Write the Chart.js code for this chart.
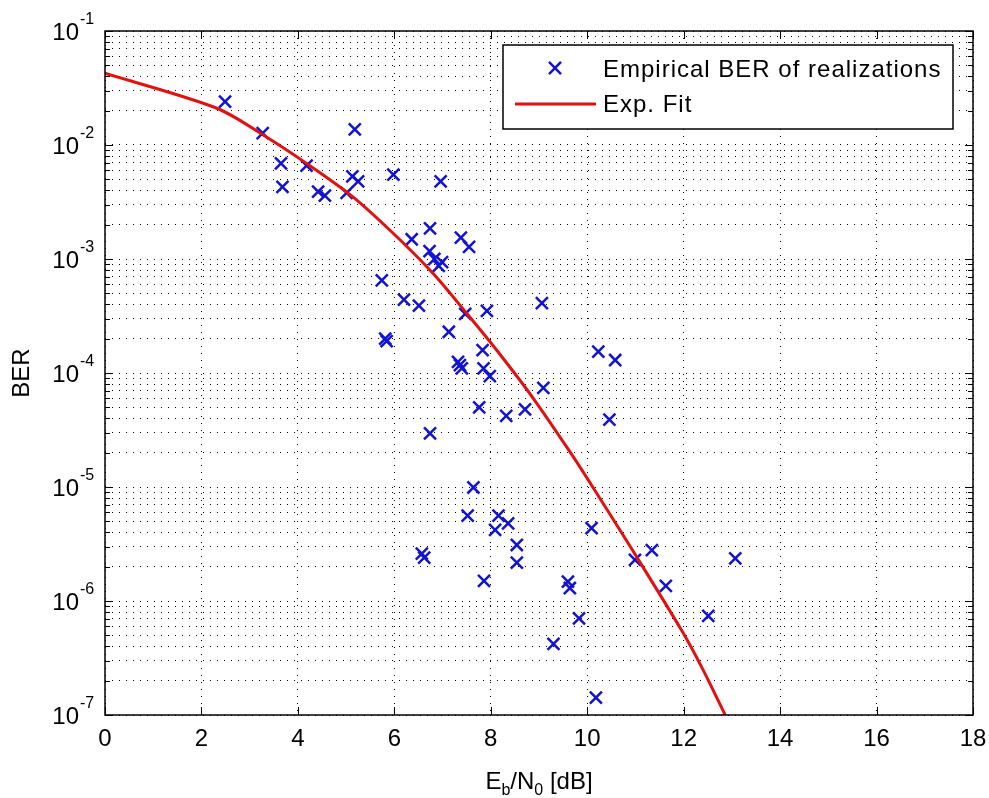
<!DOCTYPE html>
<html lang="en">
<head>
  <meta charset="UTF-8">
  <title>BER vs Eb/N0</title>
  <script src="https://cdn.jsdelivr.net/npm/chart.js"></script>
  <style>
    html, body { margin: 0; padding: 0; background: #fff; }
    #wrap { width: 989px; height: 798px; }
  </style>
</head>
<body>
  <div id="wrap"><canvas id="berChart" width="989" height="798"></canvas></div>

  <script>
    // Empirical BER of realizations (Eb/N0 in dB)
    const empEbN0 = [2.49, 3.27, 3.65, 3.68, 4.18, 4.42, 4.56, 5.01, 5.13, 5.25,
                     5.18, 5.98, 6.96, 6.36, 6.74, 6.73, 7.38, 7.55, 6.83, 6.92,
                     6.99, 5.74, 6.20, 6.51, 7.13, 7.47, 7.92, 9.06, 5.81, 5.84,
                     7.32, 7.40, 7.36, 7.83, 7.85, 7.98, 9.09, 10.23, 10.58, 7.76,
                     8.32, 8.71, 6.74, 10.46, 7.64, 7.52, 8.16, 8.36, 8.09, 8.54,
                     8.54, 6.57, 6.62, 7.86, 9.60, 9.64, 10.09, 9.83, 9.30, 10.18,
                     10.99, 11.34, 11.63, 12.51, 13.07];
    const empBER = [2.4e-2, 1.27e-2, 6.9e-3, 4.3e-3, 6.6e-3, 3.9e-3, 3.6e-3, 3.8e-3, 5.3e-3, 4.8e-3,
                    1.37e-2, 5.5e-3, 4.8e-3, 1.49e-3, 1.86e-3, 1.17e-3, 1.54e-3, 1.28e-3, 1.0e-3, 8.7e-4,
                    9.4e-4, 6.5e-4, 4.4e-4, 3.9e-4, 2.3e-4, 3.3e-4, 3.5e-4, 4.1e-4, 2.0e-4, 1.9e-4,
                    1.25e-4, 1.1e-4, 1.17e-4, 1.59e-4, 1.1e-4, 9.4e-5, 7.4e-5, 1.54e-4, 1.30e-4, 5.0e-5,
                    4.2e-5, 4.8e-5, 2.96e-5, 3.9e-5, 9.9e-6, 5.6e-6, 5.6e-6, 4.8e-6, 4.2e-6, 3.1e-6,
                    2.17e-6, 2.6e-6, 2.4e-6, 1.5e-6, 1.48e-6, 1.3e-6, 4.35e-6, 7.05e-7, 4.2e-7, 1.42e-7,
                    2.29e-6, 2.8e-6, 1.36e-6, 7.4e-7, 2.37e-6];

    // Exponential fit curve
    const fitEbN0 = [0, 2.32, 3.28, 4.18, 5.14, 5.97, 6.80, 7.50, 8.12, 8.88, 9.64, 10.13, 10.96, 11.96, 12.40, 12.86];
    const fitBER = [4.26e-2, 2.10e-2, 1.225e-2, 6.9e-3, 3.51e-3, 1.69e-3, 7.5e-4, 3.34e-4, 1.59e-4,
                    6.0e-5, 2.04e-5, 9.75e-6, 2.7e-6, 5.5e-7, 2.5e-7, 1.0e-7];

    // Axis ticks
    const xTicks = [0, 2, 4, 6, 8, 10, 12, 14, 16, 18];
    const xTickLabels = ['0', '2', '4', '6', '8', '10', '12', '14', '16', '18'];
    const yDecades = [-7, -6, -5, -4, -3, -2, -1];
    const yExpLabels = ['-7', '-6', '-5', '-4', '-3', '-2', '-1'];
    const legendLabels = ['Empirical BER of realizations', 'Exp. Fit'];

    const blue = '#1212d4';
    const red = '#e31010';
    const mainFont = "24px 'Liberation Sans', Arial, sans-serif";
    const smallFont = "16px 'Liberation Sans', Arial, sans-serif";

    // log grid: 1..9 x 10^e for each decade, plus the top decade
    const yTickValues = [];
    for (let i = 0; i < yDecades.length - 1; i++) {
      for (let m = 1; m <= 9; m++) {
        yTickValues.push(Number((m * Math.pow(10, yDecades[i])).toPrecision(3)));
      }
    }
    yTickValues.push(Math.pow(10, yDecades[yDecades.length - 1]));

    const empData = empEbN0.map((x, i) => ({ x: x, y: empBER[i] }));
    const fitData = fitEbN0.map((x, i) => ({ x: x, y: fitBER[i] }));

    // MATLAB-like frame: box, inward ticks, tick labels, titles, legend
    const matlabFrame = {
      id: 'matlabFrame',
      afterDraw(chart) {
        const ctx = chart.ctx;
        const a = chart.chartArea;
        const xs = chart.scales.x;
        const ys = chart.scales.y;
        ctx.save();

        ctx.strokeStyle = '#000';
        ctx.lineWidth = 1.5;
        ctx.strokeRect(a.left, a.top, a.right - a.left, a.bottom - a.top);

        ctx.lineWidth = 1;
        ctx.beginPath();
        xTicks.forEach(v => {
          const px = Math.round(xs.getPixelForValue(v)) + 0.5;
          ctx.moveTo(px, a.bottom); ctx.lineTo(px, a.bottom - 8);
          ctx.moveTo(px, a.top); ctx.lineTo(px, a.top + 8);
        });
        yTickValues.forEach(v => {
          const py = Math.round(ys.getPixelForValue(v)) + 0.5;
          const isDecade = Math.abs(Math.log10(v) - Math.round(Math.log10(v))) < 1e-6;
          const len = isDecade ? 8 : 5;
          ctx.moveTo(a.left, py); ctx.lineTo(a.left + len, py);
          ctx.moveTo(a.right, py); ctx.lineTo(a.right - len, py);
        });
        ctx.stroke();

        // tick labels
        ctx.fillStyle = '#000';
        ctx.textBaseline = 'alphabetic';
        ctx.font = mainFont;
        ctx.textAlign = 'center';
        xTicks.forEach((v, i) => {
          ctx.fillText(xTickLabels[i], xs.getPixelForValue(v), 746);
        });
        yDecades.forEach((e, i) => {
          const py = ys.getPixelForValue(Math.pow(10, e));
          ctx.font = mainFont;
          ctx.textAlign = 'right';
          ctx.fillText('10', 79, py + 9);
          ctx.font = smallFont;
          ctx.textAlign = 'left';
          ctx.fillText(yExpLabels[i], 80, py - 7);
        });

        // x title with subscripts
        const parts = [
          { t: 'E', f: mainFont, dy: 0 },
          { t: 'b', f: smallFont, dy: 6 },
          { t: '/N', f: mainFont, dy: 0 },
          { t: '0', f: smallFont, dy: 6 },
          { t: ' [dB]', f: mainFont, dy: 0 }
        ];
        let total = 0;
        parts.forEach(p => { ctx.font = p.f; p.w = ctx.measureText(p.t).width; total += p.w; });
        let cx = (a.left + a.right) / 2 - total / 2;
        ctx.textAlign = 'left';
        parts.forEach(p => {
          ctx.font = p.f;
          ctx.fillText(p.t, cx, 789 + p.dy);
          cx += p.w;
        });

        // y title
        ctx.save();
        ctx.translate(22, (a.top + a.bottom) / 2);
        ctx.rotate(-Math.PI / 2);
        ctx.font = mainFont;
        ctx.textAlign = 'center';
        ctx.textBaseline = 'middle';
        ctx.fillText('BER', 0, 0);
        ctx.restore();

        // legend
        ctx.fillStyle = '#fff';
        ctx.fillRect(503, 45, 450, 84);
        ctx.strokeStyle = '#000';
        ctx.lineWidth = 1.5;
        ctx.strokeRect(503, 45, 450, 84);

        const empSet = chart.data.datasets[0];
        const fitSet = chart.data.datasets[1];
        const r = empSet.pointRadius * Math.SQRT1_2;
        ctx.strokeStyle = empSet.pointBorderColor;
        ctx.lineWidth = empSet.pointBorderWidth;
        ctx.beginPath();
        ctx.moveTo(555 - r, 68 - r); ctx.lineTo(555 + r, 68 + r);
        ctx.moveTo(555 - r, 68 + r); ctx.lineTo(555 + r, 68 - r);
        ctx.stroke();

        ctx.strokeStyle = fitSet.borderColor;
        ctx.lineWidth = fitSet.borderWidth;
        ctx.beginPath();
        ctx.moveTo(515, 104); ctx.lineTo(596, 104);
        ctx.stroke();

        ctx.fillStyle = '#000';
        ctx.font = mainFont;
        ctx.textAlign = 'left';
        ctx.letterSpacing = '1px';
        ctx.fillText(legendLabels[0], 603, 77);
        ctx.fillText(legendLabels[1], 603, 112);

        ctx.restore();
      }
    };

    const gridStyle = {
      color: '#000',
      lineWidth: 1,
      drawTicks: false
    };

    const config = {
      type: 'scatter',
      data: {
        datasets: [
          {
            label: legendLabels[0],
            data: empData,
            showLine: false,
            pointStyle: 'crossRot',
            pointRadius: 8.5,
            pointBorderWidth: 2.5,
            pointBorderColor: blue,
            pointBackgroundColor: blue,
            order: 2
          },
          {
            label: legendLabels[1],
            data: fitData,
            showLine: true,
            borderColor: red,
            borderWidth: 3,
            pointRadius: 0,
            tension: 0.3,
            order: 1
          }
        ]
      },
      options: {
        responsive: false,
        animation: false,
        devicePixelRatio: 1,
        layout: { padding: { top: 31, right: 16, left: 0, bottom: 0 } },
        plugins: {
          legend: { display: false },
          tooltip: { enabled: false }
        },
        scales: {
          x: {
            type: 'linear',
            min: 0,
            max: 18,
            grid: gridStyle,
            border: { display: false, dash: [1, 6] },
            ticks: { display: false },
            afterBuildTicks: scale => { scale.ticks = xTicks.map(v => ({ value: v })); },
            afterFit: scale => { scale.height = 83; }
          },
          y: {
            type: 'logarithmic',
            min: 1e-7,
            max: 1e-1,
            grid: gridStyle,
            border: { display: false, dash: [1, 6] },
            ticks: { display: false },
            afterBuildTicks: scale => { scale.ticks = yTickValues.map(v => ({ value: v })); },
            afterFit: scale => { scale.width = 105; }
          }
        }
      },
      plugins: [matlabFrame]
    };

    new Chart(document.getElementById('berChart'), config);
  </script>
</body>
</html>
